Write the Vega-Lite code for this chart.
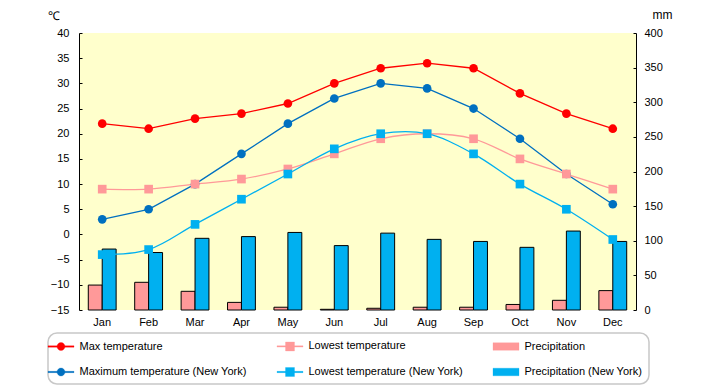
{
  "$schema": "https://vega.github.io/schema/vega-lite/v6.json",
  "width": 557,
  "height": 277,
  "autosize": {"type": "none"},
  "padding": {"left": 79, "top": 33, "right": 84, "bottom": 75},
  "background": "white",
  "config": {
    "view": {"fill": "#FFFFCC", "stroke": null},
    "font": "Liberation Sans",
    "axis": {"labelFont": "Liberation Sans", "labelFontSize": 11, "labelColor": "#000", "titleFont": "Liberation Sans", "titleFontWeight": "normal", "titleFontSize": 12, "titleColor": "#000", "grid": false, "domainColor": "#000", "tickColor": "#000"},
    "legend": {
      "orient": "none", "legendX": -31, "legendY": 300,
      "direction": "horizontal", "columns": 3, "columnPadding": 29, "rowPadding": 13,
      "padding": 6, "strokeColor": "#C8C8C8", "strokeWidth": 1.5, "cornerRadius": 9, "fillColor": "white",
      "labelFont": "Liberation Sans", "labelFontSize": 11, "labelColor": "#000", "labelLimit": 400,
      "symbolSize": 169, "labelOffset": 11.5, "symbolStrokeWidth": 0.3, "symbolOpacity": 1
    }
  },
  "datasets": {
    "precip": [
      {"month": "Jan", "series": "Precipitation", "value": 36},
      {"month": "Feb", "series": "Precipitation", "value": 40},
      {"month": "Mar", "series": "Precipitation", "value": 27},
      {"month": "Apr", "series": "Precipitation", "value": 11},
      {"month": "May", "series": "Precipitation", "value": 4},
      {"month": "Jun", "series": "Precipitation", "value": 1},
      {"month": "Jul", "series": "Precipitation", "value": 2.5},
      {"month": "Aug", "series": "Precipitation", "value": 4},
      {"month": "Sep", "series": "Precipitation", "value": 4},
      {"month": "Oct", "series": "Precipitation", "value": 8},
      {"month": "Nov", "series": "Precipitation", "value": 14},
      {"month": "Dec", "series": "Precipitation", "value": 28},
      {"month": "Jan", "series": "Precipitation (New York)", "value": 88},
      {"month": "Feb", "series": "Precipitation (New York)", "value": 83},
      {"month": "Mar", "series": "Precipitation (New York)", "value": 103.5},
      {"month": "Apr", "series": "Precipitation (New York)", "value": 106},
      {"month": "May", "series": "Precipitation (New York)", "value": 112},
      {"month": "Jun", "series": "Precipitation (New York)", "value": 93},
      {"month": "Jul", "series": "Precipitation (New York)", "value": 111},
      {"month": "Aug", "series": "Precipitation (New York)", "value": 102},
      {"month": "Sep", "series": "Precipitation (New York)", "value": 99},
      {"month": "Oct", "series": "Precipitation (New York)", "value": 90.5},
      {"month": "Nov", "series": "Precipitation (New York)", "value": 114},
      {"month": "Dec", "series": "Precipitation (New York)", "value": 99}
    ],
    "temp": [
      {"month": "Jan", "series": "Max temperature", "kind": "max", "value": 22},
      {"month": "Feb", "series": "Max temperature", "kind": "max", "value": 21},
      {"month": "Mar", "series": "Max temperature", "kind": "max", "value": 23},
      {"month": "Apr", "series": "Max temperature", "kind": "max", "value": 24},
      {"month": "May", "series": "Max temperature", "kind": "max", "value": 26},
      {"month": "Jun", "series": "Max temperature", "kind": "max", "value": 30},
      {"month": "Jul", "series": "Max temperature", "kind": "max", "value": 33},
      {"month": "Aug", "series": "Max temperature", "kind": "max", "value": 34},
      {"month": "Sep", "series": "Max temperature", "kind": "max", "value": 33},
      {"month": "Oct", "series": "Max temperature", "kind": "max", "value": 28},
      {"month": "Nov", "series": "Max temperature", "kind": "max", "value": 24},
      {"month": "Dec", "series": "Max temperature", "kind": "max", "value": 21},
      {"month": "Jan", "series": "Lowest temperature", "kind": "low", "value": 9},
      {"month": "Feb", "series": "Lowest temperature", "kind": "low", "value": 9},
      {"month": "Mar", "series": "Lowest temperature", "kind": "low", "value": 10},
      {"month": "Apr", "series": "Lowest temperature", "kind": "low", "value": 11},
      {"month": "May", "series": "Lowest temperature", "kind": "low", "value": 13},
      {"month": "Jun", "series": "Lowest temperature", "kind": "low", "value": 16},
      {"month": "Jul", "series": "Lowest temperature", "kind": "low", "value": 19},
      {"month": "Aug", "series": "Lowest temperature", "kind": "low", "value": 20},
      {"month": "Sep", "series": "Lowest temperature", "kind": "low", "value": 19},
      {"month": "Oct", "series": "Lowest temperature", "kind": "low", "value": 15},
      {"month": "Nov", "series": "Lowest temperature", "kind": "low", "value": 12},
      {"month": "Dec", "series": "Lowest temperature", "kind": "low", "value": 9},
      {"month": "Jan", "series": "Maximum temperature (New York)", "kind": "max", "value": 3},
      {"month": "Feb", "series": "Maximum temperature (New York)", "kind": "max", "value": 5},
      {"month": "Mar", "series": "Maximum temperature (New York)", "kind": "max", "value": 10},
      {"month": "Apr", "series": "Maximum temperature (New York)", "kind": "max", "value": 16},
      {"month": "May", "series": "Maximum temperature (New York)", "kind": "max", "value": 22},
      {"month": "Jun", "series": "Maximum temperature (New York)", "kind": "max", "value": 27},
      {"month": "Jul", "series": "Maximum temperature (New York)", "kind": "max", "value": 30},
      {"month": "Aug", "series": "Maximum temperature (New York)", "kind": "max", "value": 29},
      {"month": "Sep", "series": "Maximum temperature (New York)", "kind": "max", "value": 25},
      {"month": "Oct", "series": "Maximum temperature (New York)", "kind": "max", "value": 19},
      {"month": "Nov", "series": "Maximum temperature (New York)", "kind": "max", "value": 12},
      {"month": "Dec", "series": "Maximum temperature (New York)", "kind": "max", "value": 6},
      {"month": "Jan", "series": "Lowest temperature (New York)", "kind": "low", "value": -4},
      {"month": "Feb", "series": "Lowest temperature (New York)", "kind": "low", "value": -3},
      {"month": "Mar", "series": "Lowest temperature (New York)", "kind": "low", "value": 2},
      {"month": "Apr", "series": "Lowest temperature (New York)", "kind": "low", "value": 7},
      {"month": "May", "series": "Lowest temperature (New York)", "kind": "low", "value": 12},
      {"month": "Jun", "series": "Lowest temperature (New York)", "kind": "low", "value": 17},
      {"month": "Jul", "series": "Lowest temperature (New York)", "kind": "low", "value": 20},
      {"month": "Aug", "series": "Lowest temperature (New York)", "kind": "low", "value": 20},
      {"month": "Sep", "series": "Lowest temperature (New York)", "kind": "low", "value": 16},
      {"month": "Oct", "series": "Lowest temperature (New York)", "kind": "low", "value": 10},
      {"month": "Nov", "series": "Lowest temperature (New York)", "kind": "low", "value": 5},
      {"month": "Dec", "series": "Lowest temperature (New York)", "kind": "low", "value": -1}
    ]
  },
  "layer": [
    {
      "data": {"name": "precip"},
      "mark": {"type": "bar", "stroke": "#000", "strokeWidth": 1},
      "encoding": {
        "x": {"field": "month", "type": "nominal", "sort": ["Jan","Feb","Mar","Apr","May","Jun","Jul","Aug","Sep","Oct","Nov","Dec"], "scale": {"type": "band", "paddingInner": 0.4, "paddingOuter": 0.2}, "axis": {"title": null, "labelAngle": 0, "domain": false, "ticks": false, "labelPadding": 6}},
        "xOffset": {"field": "series", "type": "nominal", "sort": ["Precipitation", "Precipitation (New York)"], "scale": {"paddingInner": 0, "paddingOuter": 0}},
        "y": {"field": "value", "type": "quantitative", "scale": {"domain": [0, 400], "nice": false, "zero": false}, "axis": {"orient": "right", "values": [0,50,100,150,200,250,300,350,400], "title": "mm", "titleAngle": 0, "titleAlign": "center", "titleBaseline": "middle", "titleX": 26, "titleY": -19, "tickSize": -3, "labelPadding": 11}},
        "color": {
          "field": "series", "type": "nominal",
          "scale": {
            "domain": ["Max temperature", "Lowest temperature", "Precipitation", "Maximum temperature (New York)", "Lowest temperature (New York)", "Precipitation (New York)"],
            "range": ["#FF0000", "#FF9999", "#FF9999", "#0070C0", "#00B0F0", "#00B0F0"]
          },
          "legend": {"title": null}
        }
      }
    },
    {
      "data": {"name": "temp"},
      "encoding": {
        "y": {"field": "value", "type": "quantitative", "scale": {"domain": [-15, 40], "nice": false, "zero": false}, "axis": {"orient": "left", "values": [-15,-10,-5,0,5,10,15,20,25,30,35,40], "title": "℃", "titleAngle": 0, "titleAlign": "center", "titleBaseline": "middle", "titleX": -26, "titleY": -18, "tickSize": -3, "labelPadding": 13}}
      },
      "layer": [
        {
          "data": {"values": [{}]},
          "mark": {"type": "rule", "color": "#000", "strokeWidth": 1.2},
          "encoding": {"y": {"datum": 0, "type": "quantitative"}}
        },
        {
          "transform": [{"filter": "datum.kind === 'max'"}],
          "mark": {"type": "line", "strokeWidth": 1.3, "interpolate": "linear"},
          "encoding": {
            "x": {"field": "month", "type": "nominal", "sort": ["Jan","Feb","Mar","Apr","May","Jun","Jul","Aug","Sep","Oct","Nov","Dec"], "scale": {"type": "band", "paddingInner": 0.4, "paddingOuter": 0.2}, "axis": {"title": null, "labelAngle": 0, "domain": false, "ticks": false, "labelPadding": 6}},
            "color": {"field": "series", "type": "nominal"},
            "detail": {"field": "series"}
          }
        },
        {
          "transform": [{"filter": "datum.kind === 'low'"}],
          "mark": {"type": "line", "strokeWidth": 1.3, "interpolate": "catmull-rom"},
          "encoding": {
            "x": {"field": "month", "type": "nominal", "sort": ["Jan","Feb","Mar","Apr","May","Jun","Jul","Aug","Sep","Oct","Nov","Dec"], "scale": {"type": "band", "paddingInner": 0.4, "paddingOuter": 0.2}, "axis": {"title": null, "labelAngle": 0, "domain": false, "ticks": false, "labelPadding": 6}},
            "color": {"field": "series", "type": "nominal"},
            "detail": {"field": "series"}
          }
        },
        {
          "transform": [{"filter": "datum.kind === 'max'"}],
          "mark": {"type": "point", "filled": true, "opacity": 1, "size": 75, "shape": "circle"},
          "encoding": {
            "x": {"field": "month", "type": "nominal", "sort": ["Jan","Feb","Mar","Apr","May","Jun","Jul","Aug","Sep","Oct","Nov","Dec"], "scale": {"type": "band", "paddingInner": 0.4, "paddingOuter": 0.2}, "axis": {"title": null, "labelAngle": 0, "domain": false, "ticks": false, "labelPadding": 6}},
            "color": {"field": "series", "type": "nominal"}
          }
        },
        {
          "transform": [{"filter": "datum.kind === 'low'"}],
          "mark": {"type": "point", "filled": true, "opacity": 1, "size": 75, "shape": "square"},
          "encoding": {
            "x": {"field": "month", "type": "nominal", "sort": ["Jan","Feb","Mar","Apr","May","Jun","Jul","Aug","Sep","Oct","Nov","Dec"], "scale": {"type": "band", "paddingInner": 0.4, "paddingOuter": 0.2}, "axis": {"title": null, "labelAngle": 0, "domain": false, "ticks": false, "labelPadding": 6}},
            "color": {"field": "series", "type": "nominal"}
          }
        },
        {
          "transform": [{"filter": "false"}],
          "mark": {"type": "point", "filled": true, "opacity": 1},
          "encoding": {
            "color": {"field": "series", "type": "nominal"},
            "shape": {
              "field": "series", "type": "nominal",
              "scale": {
                "domain": ["Max temperature", "Lowest temperature", "Precipitation", "Maximum temperature (New York)", "Lowest temperature (New York)", "Precipitation (New York)"],
                "range": [
                  "M-2,-0.1H2V0.1H-2Z M0.615,0A0.615,0.615,0,1,1,-0.615,0A0.615,0.615,0,1,1,0.615,0Z",
                  "M-2,-0.1H2V0.1H-2Z M-0.69,-0.69H0.69V0.69H-0.69Z",
                  "M-2,-0.58H2V0.58H-2Z",
                  "M-2,-0.1H2V0.1H-2Z M0.615,0A0.615,0.615,0,1,1,-0.615,0A0.615,0.615,0,1,1,0.615,0Z",
                  "M-2,-0.1H2V0.1H-2Z M-0.69,-0.69H0.69V0.69H-0.69Z",
                  "M-2,-0.58H2V0.58H-2Z"
                ]
              },
              "legend": {"title": null}
            }
          }
        }
      ]
    }
  ],
  "resolve": {"scale": {"y": "independent"}}
}
